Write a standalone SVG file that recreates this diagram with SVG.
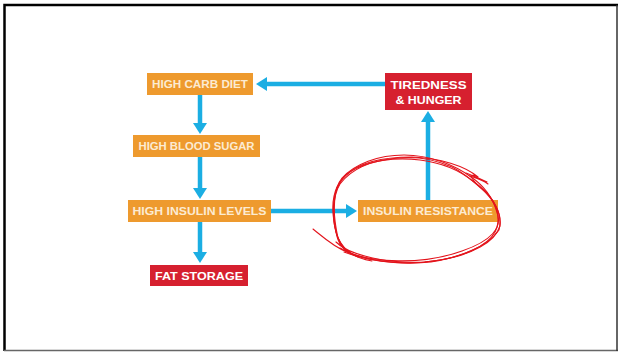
<svg xmlns="http://www.w3.org/2000/svg" width="618" height="352" viewBox="0 0 618 352">
<defs>
<style>
.orange{fill:#EE9A2E}
.red{fill:#D6202F}
.t{font-family:"Liberation Sans",Arial,sans-serif;font-weight:bold;font-size:10.5px;fill:#FCEBD2;text-anchor:middle}
.tw{fill:#FFFFFF}
.conn{stroke:#1BAEE3;stroke-width:4.5;fill:none}
.scrib{fill:none;stroke:#E3141C;stroke-width:1.1;stroke-linejoin:round;stroke-linecap:round}
</style>
<marker id="ah" markerUnits="userSpaceOnUse" markerWidth="11" markerHeight="14" refX="0" refY="7" orient="auto" viewBox="0 0 11 14">
<path d="M0,0 L11,7 L0,14 Z" fill="#1BAEE3"/>
</marker>
</defs>
<rect x="0" y="0" width="618" height="352" fill="#FFFFFF"/>
<path d="M4.5,351 L4.5,5 L618,5" fill="none" stroke="#000" stroke-width="2.5"/>
<line x1="4" y1="350.5" x2="618" y2="350.5" stroke="#666" stroke-width="1.5"/>
<line x1="617" y1="5" x2="617" y2="351" stroke="#333" stroke-width="1.5"/>

<g id="connectors">
<line class="conn" x1="386" y1="84" x2="267" y2="84" marker-end="url(#ah)"/>
<line class="conn" x1="200" y1="95" x2="200" y2="123" marker-end="url(#ah)"/>
<line class="conn" x1="200" y1="157" x2="200" y2="188" marker-end="url(#ah)"/>
<line class="conn" x1="200" y1="222" x2="200" y2="252" marker-end="url(#ah)"/>
<line class="conn" x1="271" y1="211" x2="346" y2="211" marker-end="url(#ah)"/>
<line class="conn" x1="428" y1="200" x2="428" y2="122" marker-end="url(#ah)"/>
</g>

<g id="high-carb-diet">
<rect class="orange" x="147" y="73" width="106" height="22"/>
<text class="t" x="200" y="88" textLength="96" lengthAdjust="spacingAndGlyphs">HIGH CARB DIET</text>
</g>
<g id="high-blood-sugar">
<rect class="orange" x="133" y="135" width="127" height="22"/>
<text class="t" x="196.5" y="150" textLength="116" lengthAdjust="spacingAndGlyphs">HIGH BLOOD SUGAR</text>
</g>
<g id="high-insulin-levels">
<rect class="orange" x="128" y="200" width="143" height="22"/>
<text class="t" x="199.5" y="215" textLength="134" lengthAdjust="spacingAndGlyphs">HIGH INSULIN LEVELS</text>
</g>
<g id="fat-storage">
<rect class="red" x="150" y="265" width="98" height="21"/>
<text class="t tw" x="199" y="279.5" textLength="88" lengthAdjust="spacingAndGlyphs">FAT STORAGE</text>
</g>
<g id="insulin-resistance">
<rect class="orange" x="358" y="200" width="140" height="22"/>
<text class="t" x="428" y="215" textLength="130" lengthAdjust="spacingAndGlyphs">INSULIN RESISTANCE</text>
</g>
<g id="tiredness-hunger">
<rect class="red" x="385" y="73" width="87" height="37"/>
<text class="t tw" x="428.5" y="88.5" textLength="76" lengthAdjust="spacingAndGlyphs">TIREDNESS</text>
<text class="t tw" x="428.5" y="103.5" textLength="66" lengthAdjust="spacingAndGlyphs">&amp; HUNGER</text>
</g>

<g id="scribble">
<path class="scrib" d="M313,229 C322,236 332,246 347,252 C372,262 420,266 462,251 C491,241 503,228 497,212 C492,196 483,185 471,177 C455,165 430,155 404,155 C378,155 355,164 342,178 C332,190 333,215 336,232 C338,245 345,252 354,255"/>
<path class="scrib" d="M336,242 C350,256 390,264 425,262 C460,259 488,246 499,230 C503,214 494,198 480,187 C468,176 470,173 478,177 C465,166 440,158 412,157 C385,157 360,162 346,175 C334,187 332,205 334,222 C336,238 342,250 358,257"/>
<path class="scrib" d="M340,248 C360,260 400,267 440,260 C472,255 495,242 500,226 C502,212 492,198 482,189 C472,180 462,172 452,167 C436,160 418,156 398,158 C374,160 352,168 340,184 C331,198 334,220 338,238 C342,252 356,258 372,261"/>
<path class="scrib" d="M344,252 C370,262 415,268 450,258 C480,250 497,238 498,222 C499,206 488,192 474,182 C462,172 444,163 420,160 C396,157 368,160 350,172 C337,181 332,196 333,212 C334,230 338,244 348,252"/>
<path class="scrib" d="M470,176 C476,178 484,181 488,184 M466,173 C474,176 481,179 487,182"/>
</g>
</svg>
